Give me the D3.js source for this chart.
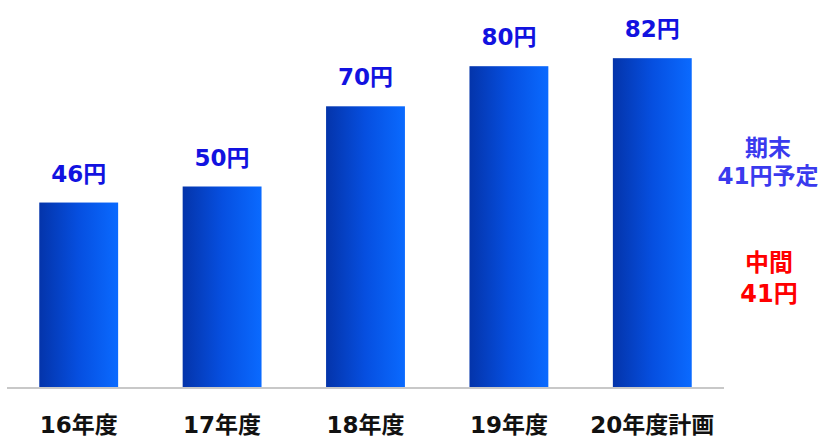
<!DOCTYPE html>
<html><head><meta charset="utf-8">
<script src="https://cdn.jsdelivr.net/npm/d3@7"></script>
<style>html,body{margin:0;padding:0;background:#fff;overflow:hidden}</style>
</head><body>
<svg id="c" width="822" height="440"></svg>
<script>
const categories = ["16年度","17年度","18年度","19年度","20年度計画"];
const values = [46, 50, 70, 80, 82];
const valueLabels = ["46円","50円","70円","80円","82円"];
const noteTop = ["期末","41円予定"];
const noteBottom = ["中間","41円"];

const svg = d3.select("#c");
const font = "'DejaVu Sans','Noto Sans CJK JP',sans-serif";
const baseY = 387;
const x = d3.scaleBand().domain(categories).range([7, 724]).paddingInner(0.45).paddingOuter(0.225);
const y = d3.scaleLinear().domain([0, 100]).range([baseY, baseY - 401]);

const defs = svg.append("defs");
const g = defs.append("linearGradient").attr("id","bg").attr("x1","0").attr("x2","1").attr("y1","0").attr("y2","0");
g.append("stop").attr("offset","0%").attr("stop-color","#0434aa");
g.append("stop").attr("offset","50%").attr("stop-color","#064fe0");
g.append("stop").attr("offset","100%").attr("stop-color","#0a6aff");

svg.selectAll("rect.bar").data(values).enter().append("rect")
  .attr("class","bar")
  .attr("x",(d,i)=>x(categories[i]))
  .attr("y",d=>y(d))
  .attr("width",x.bandwidth())
  .attr("height",d=>y(0)-y(d))
  .attr("fill","url(#bg)");

svg.append("line").attr("x1",7).attr("x2",724).attr("y1",baseY+1).attr("y2",baseY+1)
  .attr("stroke","#c8c8c8").attr("stroke-width",2);

svg.selectAll("text.val").data(values).enter().append("text")
  .attr("class","val")
  .attr("x",(d,i)=>x(categories[i])+x.bandwidth()/2)
  .attr("y",d=>y(d)-21)
  .attr("text-anchor","middle")
  .attr("font-family",font).attr("font-weight","bold").attr("font-size",23)
  .attr("fill","#1212e0")
  .text((d,i)=>valueLabels[i]);

const xAxis = d3.axisBottom(x).tickSize(0).tickPadding(0);
const ax = svg.append("g").attr("transform",`translate(0,${baseY})`).call(xAxis);
ax.select(".domain").remove();
ax.selectAll("text").attr("y",46).attr("dy",0)
  .attr("font-family",font).attr("font-weight","bold").attr("font-size",23).attr("fill","#111");

svg.selectAll("text.nt").data(noteTop).enter().append("text")
  .attr("x",768).attr("y",(d,i)=>156+i*28)
  .attr("text-anchor","middle")
  .attr("font-family",font).attr("font-weight","bold").attr("font-size",23)
  .attr("fill","#3a3aee").text(d=>d);

svg.selectAll("text.nb").data(noteBottom).enter().append("text")
  .attr("x",769).attr("y",(d,i)=>271+i*31)
  .attr("text-anchor","middle")
  .attr("font-family",font).attr("font-weight","bold").attr("font-size",24)
  .attr("fill","#ff0000").text(d=>d);
</script>
</body></html>
